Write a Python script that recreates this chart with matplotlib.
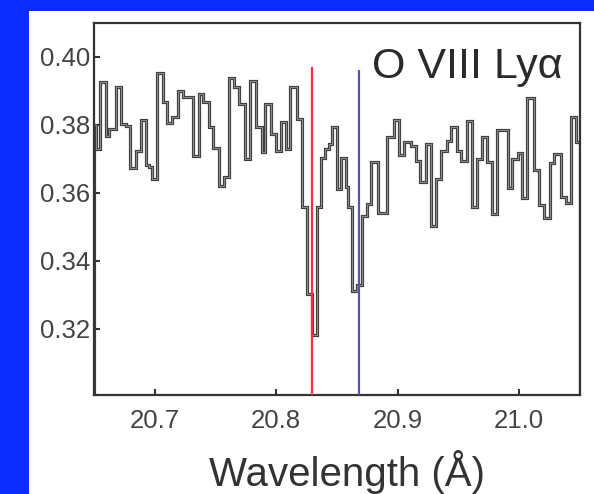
import matplotlib
matplotlib.use("Agg")
import matplotlib.pyplot as plt
import matplotlib.patheffects as pe
from matplotlib.patches import Rectangle

plt.rcParams['font.family'] = ['Liberation Sans', 'DejaVu Sans']

# bin edges (Angstrom) and flux per bin
edges = [20.6500, 20.6519, 20.6547, 20.6596, 20.6623, 20.6678, 20.6724, 20.6760,
         20.6798, 20.6842, 20.6888, 20.6924, 20.6951, 20.6978, 20.7019, 20.7066,
         20.7098, 20.7142, 20.7189, 20.7230, 20.7311, 20.7361, 20.7399, 20.7443,
         20.7481, 20.7525, 20.7571, 20.7612, 20.7653, 20.7694, 20.7743, 20.7781,
         20.7830, 20.7883, 20.7910, 20.7959, 20.7998, 20.8041, 20.8080, 20.8115,
         20.8170, 20.8211, 20.8252, 20.8293, 20.8334, 20.8369, 20.8402, 20.8434,
         20.8461, 20.8498, 20.8533, 20.8571, 20.8593, 20.8625, 20.8664, 20.8702,
         20.8743, 20.8779, 20.8836, 20.8910, 20.8970, 20.9012, 20.9052, 20.9112,
         20.9153, 20.9180, 20.9232, 20.9273, 20.9314, 20.9355, 20.9404, 20.9437,
         20.9486, 20.9519, 20.9574, 20.9611, 20.9656, 20.9697, 20.9738, 20.9775,
         20.9814, 20.9910, 20.9943, 20.9992, 21.0025, 21.0066, 21.0123, 21.0164,
         21.0205, 21.0252, 21.0289, 21.0344, 21.0388, 21.0426, 21.0467, 21.0500]
flux = [0.3800, 0.3729, 0.3926, 0.3768, 0.3788, 0.3911, 0.3803, 0.3796,
        0.3673, 0.3722, 0.3815, 0.3683, 0.3675, 0.3642, 0.3953, 0.3867,
        0.3805, 0.3823, 0.3901, 0.3882, 0.3709, 0.3892, 0.3867, 0.3793,
        0.3732, 0.3621, 0.3647, 0.3939, 0.3911, 0.3862, 0.3700, 0.3929,
        0.3793, 0.3719, 0.3862, 0.3773, 0.3724, 0.3808, 0.3729, 0.3911,
        0.3818, 0.3557, 0.3301, 0.3182, 0.3557, 0.3704, 0.3729, 0.3744,
        0.3793, 0.3611, 0.3704, 0.3616, 0.3557, 0.3310, 0.3330, 0.3532,
        0.3567, 0.3690, 0.3540, 0.3763, 0.3815, 0.3712, 0.3750, 0.3739,
        0.3695, 0.3632, 0.3744, 0.3503, 0.3640, 0.3724, 0.3754, 0.3793,
        0.3724, 0.3695, 0.3813, 0.3557, 0.3700, 0.3764, 0.3690, 0.3537,
        0.3785, 0.3615, 0.3700, 0.3718, 0.3586, 0.3880, 0.3668, 0.3565,
        0.3527, 0.3688, 0.3714, 0.3588, 0.3570, 0.3824, 0.3750]

# marked line positions
line_wl = [20.8295, 20.8685]
line_top = [0.397, 0.3962]
line_colors = ['#ff2a45', '#5555b0']

xticks = [20.7, 20.8, 20.9, 21.0]
yticks = [0.32, 0.34, 0.36, 0.38, 0.40]

W, H = 594, 494
fig = plt.figure(figsize=(W / 100, H / 100), dpi=100, facecolor='#0c2cff')
panel = Rectangle((29 / W, 0), 1 - 29 / W, (H - 11) / H,
                  transform=fig.transFigure, facecolor='white',
                  edgecolor='none', zorder=-10)
fig.patches.append(panel)

ax = fig.add_axes([94 / W, (H - 395) / H, (580 - 94) / W, (395 - 23) / H])
ax.set_facecolor('white')

st = ax.stairs(flux, edges, color='#9c9c9c', linewidth=0.6, zorder=2)
st.set_path_effects([pe.Stroke(linewidth=2.3, foreground='#404040'), pe.Normal()])

for wl, top, c in zip(line_wl, line_top, line_colors):
    ax.vlines(wl, 0.29, top, color=c, linewidth=1.6, zorder=3)

ax.set_xlim(20.65, 21.05)
ax.set_ylim(0.3005, 0.410)
ax.set_xticks(xticks)
ax.set_xticklabels(['%.1f' % t for t in xticks])
ax.set_yticks(yticks)
ax.set_yticklabels(['%.2f' % t for t in yticks])
ax.tick_params(direction='in', length=4, width=1.5, color='#333333',
               labelcolor='#444444', labelsize=18.5, pad=3)
ax.tick_params(axis='x', labelsize=18.5, pad=10)
for s in ax.spines.values():
    s.set_linewidth(1.6)
    s.set_color('#333333')

ax.set_xlabel('Wavelength (Å)', fontsize=29, color='#333333')
ax.xaxis.set_label_coords((347 - 94) / 486, -0.147)

ax.text((372 - 94) / 486, (395 - 78) / 372, 'O VIII Ly\u03b1', transform=ax.transAxes,
        fontsize=31, color='#2a2a2a', va='baseline', ha='left')

fig.savefig('out.png', dpi=100, facecolor=fig.get_facecolor())
